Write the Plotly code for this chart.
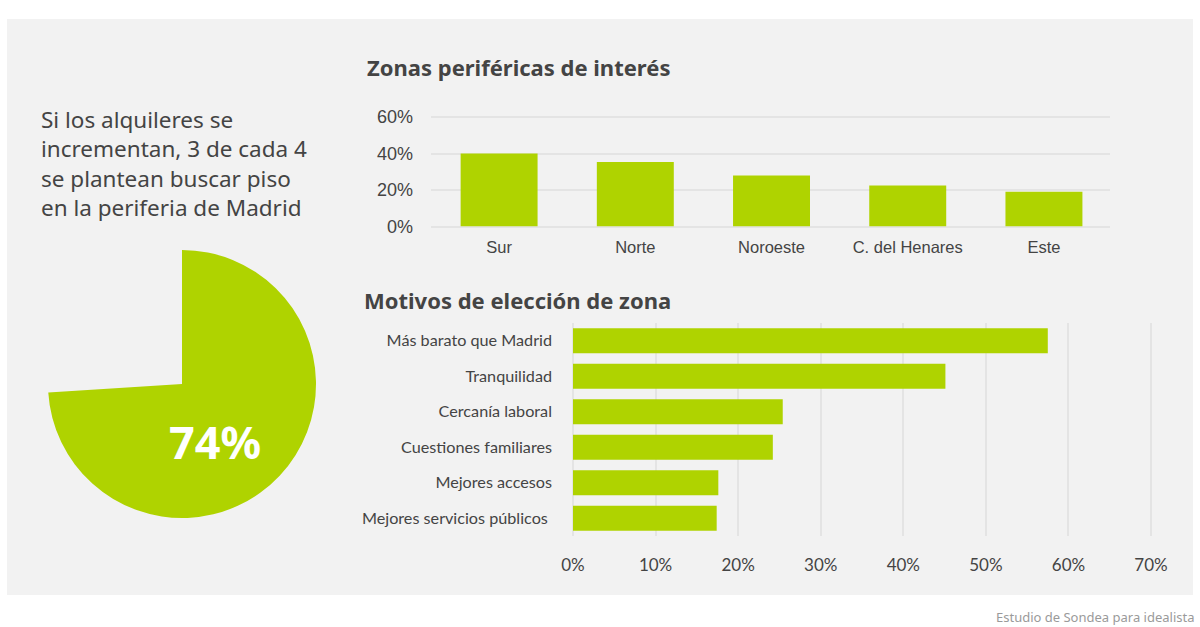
import plotly.graph_objects as go

W, H = 1200, 627
GREEN = "#afd300"
DARK = "#444444"
NARROW = "Lato, sans-serif"
HEAD = "Noto Sans, sans-serif"
ARIAL = "Liberation Sans, Arial, sans-serif"

pie_labels = ["Sí", "No"]
pie_values = [74, 26]
zonas = ["Sur", "Norte", "Noroeste", "C. del Henares", "Este"]
zonas_values = [40, 35.3, 28, 22.5, 19]
zonas_ticks = [0, 20, 40, 60]
zonas_ticktext = ["0%", "20%", "40%", "60%"]
motivos = ["Más barato que Madrid", "Tranquilidad", "Cercanía laboral",
           "Cuestiones familiares", "Mejores accesos", "Mejores servicios públicos\u00a0"]
motivos_values = [57.5, 45.1, 25.4, 24.2, 17.6, 17.4]
motivos_ticks = [0, 10, 20, 30, 40, 50, 60, 70]
motivos_ticktext = ["0%", "10%", "20%", "30%", "40%", "50%", "60%", "70%"]
intro = "Si los alquileres se<br>incrementan, 3 de cada 4<br>se plantean buscar piso<br>en la periferia de Madrid"


def px(x):
    return x / W


def py(y):
    return 1 - y / H


fig = go.Figure()
fig.add_trace(go.Pie(labels=pie_labels, values=pie_values, sort=False, direction="clockwise", rotation=0,
                     marker=dict(colors=[GREEN, "rgba(0,0,0,0)"], line=dict(width=0)),
                     textinfo="none", showlegend=False,
                     domain=dict(x=[px(48), px(316)], y=[py(518), py(250)])))
fig.add_trace(go.Bar(x=zonas, y=zonas_values, marker=dict(color=GREEN, line=dict(width=0)),
                     width=0.565, xaxis="x", yaxis="y", showlegend=False))
fig.add_trace(go.Bar(y=motivos, x=motivos_values, orientation="h", marker=dict(color=GREEN, line=dict(width=0)),
                     width=0.7, xaxis="x2", yaxis="y2", showlegend=False))

fig.update_layout(
    width=W, height=H, autosize=False,
    margin=dict(l=0, r=0, t=0, b=0),
    paper_bgcolor="white", plot_bgcolor="rgba(0,0,0,0)",
    shapes=[dict(type="rect", xref="paper", yref="paper", x0=px(7), x1=px(1193), y0=py(595), y1=py(19),
                 fillcolor="#f2f2f2", line=dict(width=0), layer="below")],
    xaxis=dict(domain=[px(431), px(1110)], anchor="y", automargin=False, range=[-0.5, 4.485], showgrid=False,
               zeroline=False, showline=False, ticks="", ticklabelstandoff=9,
               tickfont=dict(family=ARIAL, size=16.5, color=DARK)),
    yaxis=dict(domain=[py(226.5), py(115)], anchor="x", automargin=False, range=[0, 61.1], tickvals=zonas_ticks,
               ticktext=zonas_ticktext, gridcolor="#e4e4e4", gridwidth=1.5, zeroline=True, zerolinecolor="#e4e4e4",
               zerolinewidth=1.5, showline=False, ticks="", ticklabelstandoff=17,
               tickfont=dict(family=ARIAL, size=18, color=DARK)),
    xaxis2=dict(domain=[px(573), px(1153)], anchor="y2", automargin=False, range=[0, 70.24], tickvals=motivos_ticks,
                ticktext=motivos_ticktext, gridcolor="#e4e4e4", gridwidth=1.5, zeroline=True, zerolinecolor="#e4e4e4",
                zerolinewidth=1.5, showline=False, ticks="", ticklabelstandoff=17,
                tickfont=dict(family=NARROW, size=17, color=DARK)),
    yaxis2=dict(domain=[py(536), py(323)], anchor="x2", automargin=False, autorange="reversed", showgrid=False,
                zeroline=False, showline=False, ticks="", ticklabelstandoff=20,
                tickfont=dict(family=NARROW, size=16.2, color=DARK)),
    annotations=[
        dict(text=intro, xref="paper", yref="paper", x=px(39), y=py(163.5), xanchor="left", yanchor="middle",
             showarrow=False, align="left", font=dict(family=HEAD, size=22.5, color=DARK)),
        dict(text="<b>Zonas periféricas de interés</b>", xref="paper", yref="paper", x=px(365), y=py(67),
             xanchor="left", yanchor="middle", showarrow=False, font=dict(family=HEAD, size=22, color=DARK)),
        dict(text="<b>Motivos de elección de zona</b>", xref="paper", yref="paper", x=px(362), y=py(300),
             xanchor="left", yanchor="middle", showarrow=False, font=dict(family=HEAD, size=22, color=DARK)),
        dict(text="<b>74%</b>", xref="paper", yref="paper", x=px(215), y=py(441), xanchor="center",
             yanchor="middle", showarrow=False, font=dict(family=HEAD, size=45, color="white")),
        dict(text="Estudio de Sondea para idealista", xref="paper", yref="paper", x=px(1196), y=py(617),
             xanchor="right", yanchor="middle", showarrow=False, font=dict(family=HEAD, size=13, color="#9a9a9a")),
    ],
)

fig.write_html("out.html", config=dict(displayModeBar=False),
               post_script="document.body.style.margin='0';document.body.style.overflow='hidden';")
